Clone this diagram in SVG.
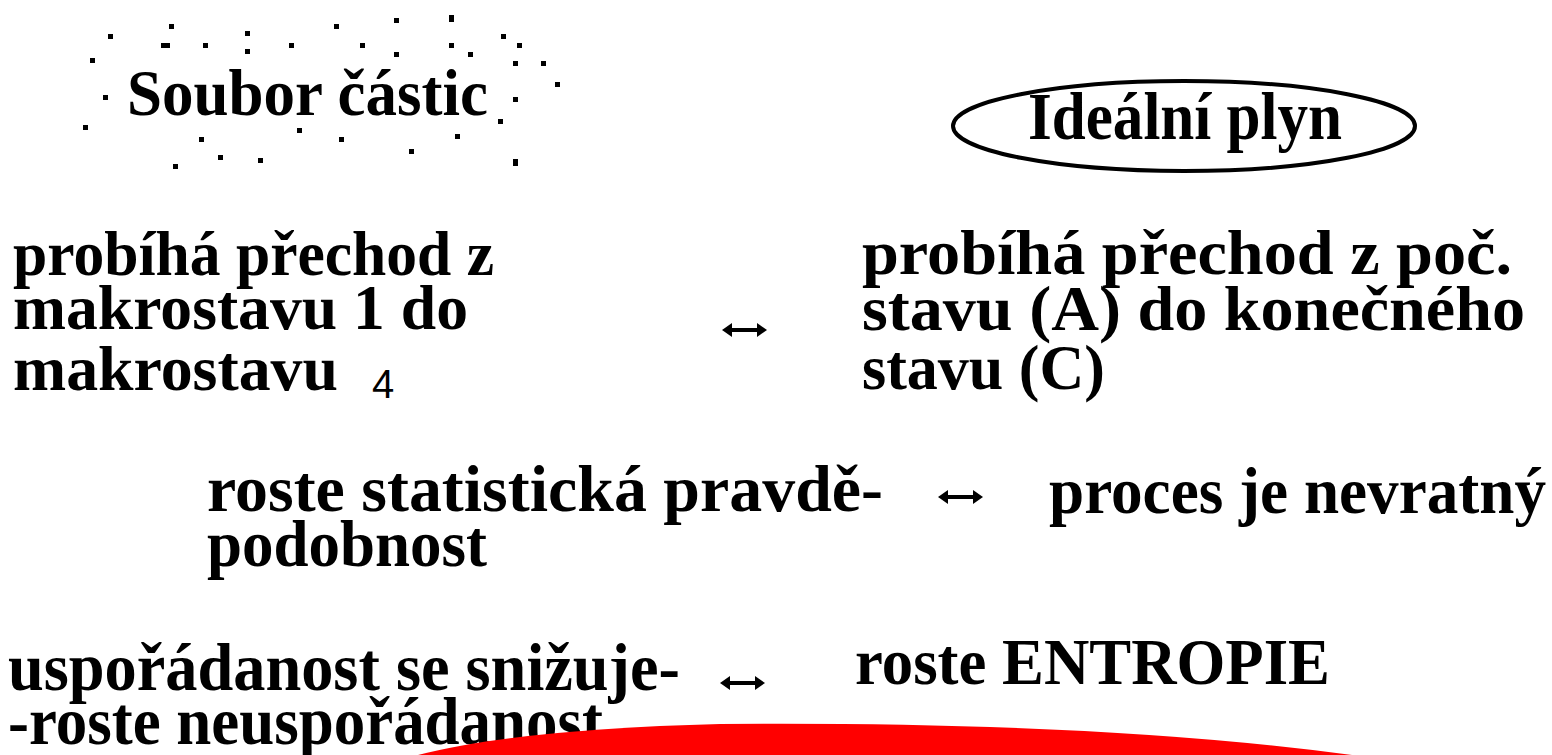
<svg xmlns="http://www.w3.org/2000/svg" width="1552" height="755" viewBox="0 0 1552 755">
<style>
.t{font-family:"Liberation Serif","Times New Roman",serif;font-weight:bold;fill:#000}
.s{font-family:"Liberation Sans",Arial,sans-serif;fill:#000}
.d{fill:#000}
</style>
<defs>
<g id="arr"><rect x="8" y="-2" width="29" height="4"/><path d="M0,0 L10,-7 L10,7 Z"/><path d="M45,0 L35,-7 L35,7 Z"/></g>
</defs>
<rect width="1552" height="755" fill="#fff"/>
<g id="soubor">
<g class="d">
<rect x="108" y="34" width="5" height="5"/><rect x="169" y="24" width="5" height="5"/><rect x="161" y="43" width="9" height="5"/><rect x="203" y="43" width="5" height="5"/><rect x="245" y="31" width="5" height="5"/><rect x="245" y="49" width="5" height="5"/><rect x="289" y="43" width="5" height="5"/><rect x="90" y="58" width="5" height="5"/><rect x="103" y="95" width="5" height="5"/><rect x="83" y="125" width="5" height="5"/><rect x="199" y="137" width="5" height="5"/><rect x="218" y="155" width="5" height="5"/><rect x="173" y="164" width="5" height="5"/><rect x="258" y="158" width="5" height="5"/><rect x="297" y="128" width="5" height="5"/><rect x="334" y="24" width="5" height="5"/><rect x="394" y="18" width="5" height="5"/><rect x="449" y="15" width="5" height="7"/><rect x="360" y="43" width="5" height="5"/><rect x="394" y="52" width="5" height="5"/><rect x="449" y="43" width="5" height="5"/><rect x="468" y="52" width="5" height="5"/><rect x="501" y="34" width="5" height="5"/><rect x="517" y="43" width="5" height="5"/><rect x="513" y="61" width="5" height="5"/><rect x="541" y="61" width="5" height="5"/><rect x="555" y="82" width="5" height="5"/><rect x="513" y="97" width="5" height="5"/><rect x="498" y="119" width="5" height="5"/><rect x="455" y="134" width="5" height="5"/><rect x="339" y="137" width="5" height="5"/><rect x="409" y="149" width="5" height="5"/><rect x="513" y="159" width="5" height="7"/>
</g>
<text class="t" x="127" y="115" font-size="66" textLength="361" lengthAdjust="spacingAndGlyphs">Soubor částic</text>
</g>
<g id="idealni">
<ellipse cx="1184" cy="126" rx="231" ry="45" fill="none" stroke="#000" stroke-width="4"/>
<text class="t" x="1028" y="139" font-size="68" textLength="314" lengthAdjust="spacingAndGlyphs">Ideální plyn</text>
</g>
<g id="left2">
<text class="t" x="13" y="275" font-size="64" textLength="481" lengthAdjust="spacingAndGlyphs">probíhá přechod z</text>
<text class="t" x="13" y="329" font-size="64" textLength="455" lengthAdjust="spacingAndGlyphs">makrostavu 1 do</text>
<text class="t" x="13" y="390" font-size="64" textLength="325" lengthAdjust="spacingAndGlyphs">makrostavu</text>
<text class="s" x="372" y="398" font-size="40">4</text>
</g>
<g id="right2">
<text class="t" x="862" y="274" font-size="64" textLength="650" lengthAdjust="spacingAndGlyphs">probíhá přechod z poč.</text>
<text class="t" x="862" y="330" font-size="64" textLength="663" lengthAdjust="spacingAndGlyphs">stavu (A) do konečného</text>
<text class="t" x="862" y="389" font-size="64" textLength="243" lengthAdjust="spacingAndGlyphs">stavu (C)</text>
</g>
<g id="left3">
<text class="t" x="207" y="511" font-size="66" textLength="676" lengthAdjust="spacingAndGlyphs">roste statistická pravdě-</text>
<text class="t" x="207" y="566" font-size="66" textLength="280" lengthAdjust="spacingAndGlyphs">podobnost</text>
</g>
<g id="right3">
<text class="t" x="1049" y="513" font-size="66" textLength="497" lengthAdjust="spacingAndGlyphs">proces je nevratný</text>
</g>
<g id="left4">
<text class="t" x="8" y="690" font-size="68" textLength="672" lengthAdjust="spacingAndGlyphs">uspořádanost se snižuje-</text>
<text class="t" x="8" y="744" font-size="68" textLength="595" lengthAdjust="spacingAndGlyphs">-roste neuspořádanost</text>
</g>
<g id="right4">
<text class="t" x="855" y="684" font-size="66" textLength="475" lengthAdjust="spacingAndGlyphs">roste ENTROPIE</text>
</g>
<g id="connectors" class="d">
<use href="#arr" x="722" y="330"/>
<use href="#arr" x="938" y="497"/>
<use href="#arr" x="720" y="683"/>
</g>
<path id="red" d="M418,755 Q520,729 720,724 Q1100,721 1352,755 Z" fill="#ff0000"/>
</svg>
